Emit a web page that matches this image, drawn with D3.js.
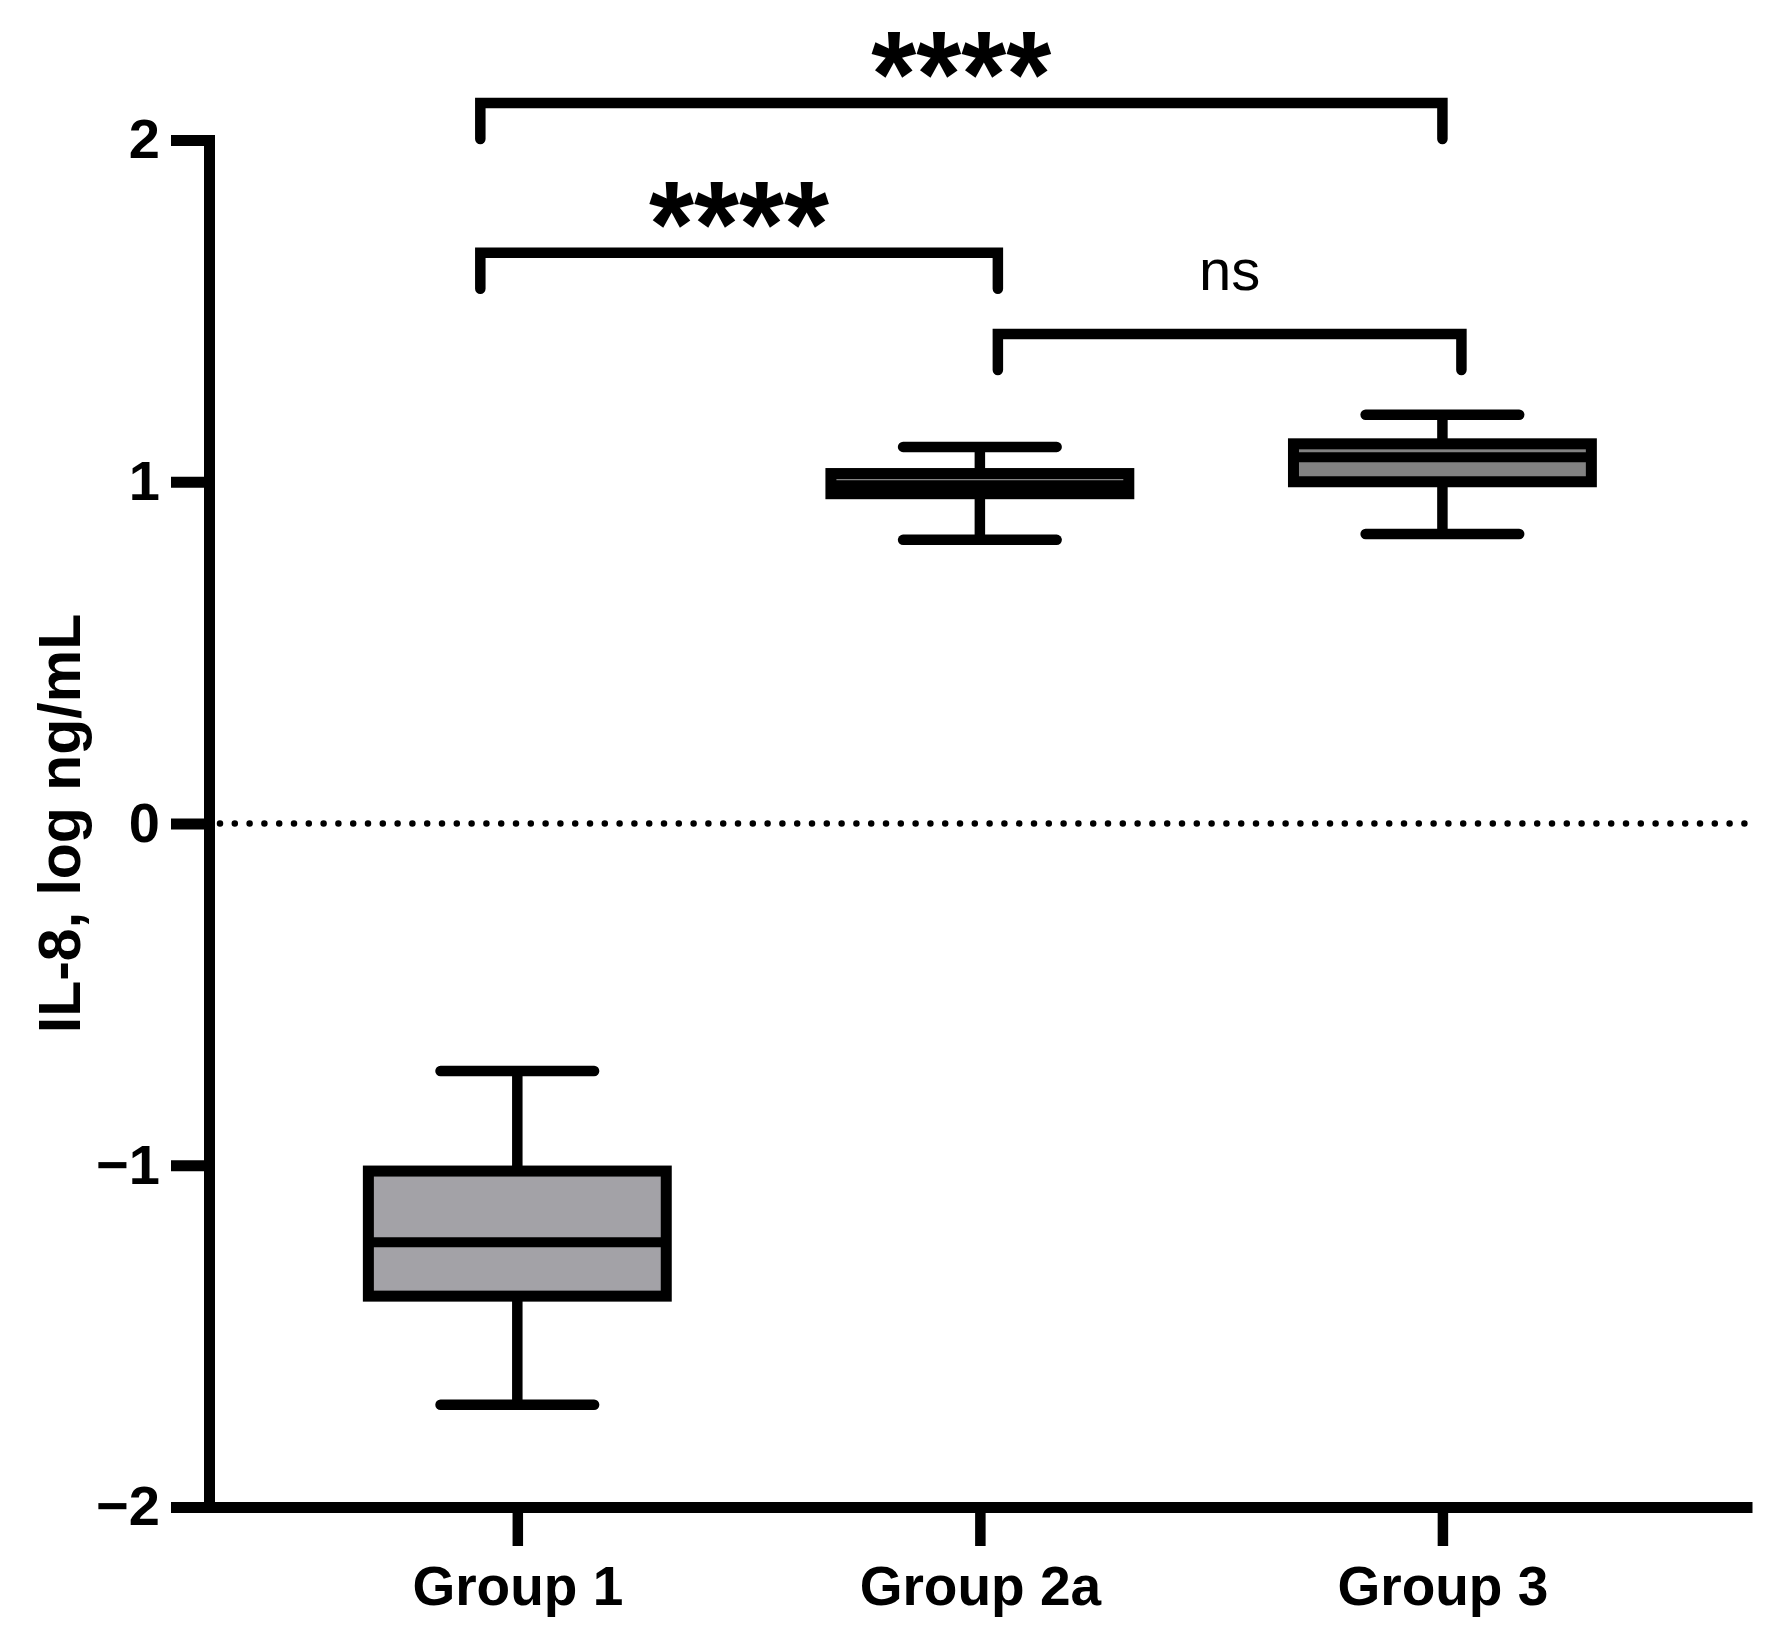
<!DOCTYPE html>
<html>
<head>
<meta charset="utf-8">
<script src="https://cdn.jsdelivr.net/npm/d3@7"></script>
<style>
body { margin: 0; background: #fff; }
text { font-family: Arial, "Liberation Sans", Helvetica, sans-serif; }
</style>
</head>
<body>
<div id="chart"></div>
<script>
// box plot values (log ng/mL)
var groups = ["Group 1", "Group 2a", "Group 3"];
var whiskerMin = [-1.701, 0.830, 0.847];
var q1 = [-1.383, 0.965, 1.000];
var median = [-1.225, 0.990, 1.072];
var q3 = [-1.017, 1.024, 1.111];
var whiskerMax = [-0.724, 1.102, 1.196];

var yTicks = [-2, -1, 0, 1, 2];
var yTickLabels = ["\u22122", "\u22121", "0", "1", "2"];

// significance brackets
var compFrom = ["Group 1", "Group 1", "Group 2a"];
var compTo = ["Group 3", "Group 2a", "Group 3"];
var compLabel = ["****", "****", "ns"];
var compLevel = [2.108, 1.670, 1.432];

var width = 1784, height = 1642;
var fills = ["#a3a2a7", "#8c8c8c", "#828282"];

var svg = d3.select("#chart").append("svg")
    .attr("width", width)
    .attr("height", height);

var x = d3.scalePoint()
    .domain(groups)
    .range([171, 1752])
    .padding(0.709)
    .align(0.528);

var y = d3.scaleLinear()
    .domain([-2, 2])
    .range([1507, 140]);

var step = x.step();
var boxHalf = step * 0.322;
var capHalf = step * 0.166;

// dotted zero line
svg.append("line")
    .attr("x1", 220).attr("x2", 1752)
    .attr("y1", y(0)).attr("y2", y(0))
    .attr("stroke", "#000")
    .attr("stroke-width", 6.5)
    .attr("stroke-linecap", "round")
    .attr("stroke-dasharray", "0 14.8");

// x axis
var xAxis = svg.append("g")
    .attr("transform", "translate(0," + y(-2) + ")")
    .call(d3.axisBottom(x).tickSize(39).tickSizeOuter(0).tickPadding(20));
xAxis.select(".domain").attr("stroke-width", 11).attr("stroke-linecap", "butt");
xAxis.selectAll(".tick line").attr("stroke-width", 10.5);
xAxis.selectAll(".tick text")
    .attr("font-size", 55)
    .attr("font-weight", "bold")
    .attr("font-family", "Arial, 'Liberation Sans', sans-serif")
    .attr("fill", "#000");

// y axis
var yAxis = svg.append("g")
    .attr("transform", "translate(209,0)")
    .call(d3.axisLeft(y)
        .tickValues(yTicks)
        .tickFormat(function (d, i) { return yTickLabels[i]; })
        .tickSize(38).tickSizeOuter(0).tickPadding(11));
yAxis.select(".domain").attr("stroke-width", 11).attr("stroke-linecap", "square");
yAxis.selectAll(".tick line").attr("stroke-width", 11);
yAxis.selectAll(".tick text")
    .attr("font-size", 56)
    .attr("font-weight", "bold")
    .attr("font-family", "Arial, 'Liberation Sans', sans-serif")
    .attr("fill", "#000");

svg.append("text")
    .attr("transform", "translate(80," + y(0) + ") rotate(-90)")
    .attr("text-anchor", "middle")
    .attr("font-size", 59)
    .attr("font-weight", "bold")
    .text("IL-8, log ng/mL");

// boxes
var boxes = svg.selectAll(".box")
    .data(groups)
    .enter().append("g")
    .attr("class", "box");

boxes.append("line")
    .attr("x1", d => x(d)).attr("x2", d => x(d))
    .attr("y1", (d, i) => y(whiskerMax[i]))
    .attr("y2", (d, i) => y(whiskerMin[i]))
    .attr("stroke", "#000")
    .attr("stroke-width", 10.5);

boxes.selectAll(".cap")
    .data((d, i) => [{c: x(d), v: whiskerMax[i]}, {c: x(d), v: whiskerMin[i]}])
    .enter().append("line")
    .attr("class", "cap")
    .attr("x1", d => d.c - capHalf).attr("x2", d => d.c + capHalf)
    .attr("y1", d => y(d.v)).attr("y2", d => y(d.v))
    .attr("stroke", "#000")
    .attr("stroke-width", 10.5)
    .attr("stroke-linecap", "round");

boxes.append("rect")
    .attr("x", d => x(d) - boxHalf)
    .attr("width", boxHalf * 2)
    .attr("y", (d, i) => y(q3[i]))
    .attr("height", (d, i) => y(q1[i]) - y(q3[i]))
    .attr("fill", (d, i) => fills[i])
    .attr("stroke", "#000")
    .attr("stroke-width", 11);

boxes.append("line")
    .attr("x1", d => x(d) - boxHalf).attr("x2", d => x(d) + boxHalf)
    .attr("y1", (d, i) => y(median[i])).attr("y2", (d, i) => y(median[i]))
    .attr("stroke", "#000")
    .attr("stroke-width", 10);

// brackets (Prism offsets the legs a little from the group centres)
var legNudge = [[-37, 0], [-37, 18], [18, 19]];
var legDrop = 36;

compLabel.forEach(function (lab, i) {
    var xa = x(compFrom[i]) + legNudge[i][0];
    var xb = x(compTo[i]) + legNudge[i][1];
    var yb = y(compLevel[i]);
    svg.append("path")
        .attr("d", "M" + xa + "," + (yb + legDrop) + "V" + yb + "H" + xb + "V" + (yb + legDrop))
        .attr("fill", "none")
        .attr("stroke", "#000")
        .attr("stroke-width", 10.5)
        .attr("stroke-linejoin", "miter")
        .attr("stroke-linecap", "round");
    if (lab === "ns") {
        svg.append("text")
            .attr("x", (xa + xb) / 2)
            .attr("y", yb - 44)
            .attr("text-anchor", "middle")
            .attr("font-size", 58)
            .text(lab);
    } else {
        svg.append("text")
            .attr("x", (xa + xb) / 2)
            .attr("y", yb + 13)
            .attr("text-anchor", "middle")
            .attr("font-size", 122)
            .attr("font-weight", "bold")
            .attr("textLength", 180)
            .attr("lengthAdjust", "spacingAndGlyphs")
            .text(lab);
    }
});
</script>
</body>
</html>
